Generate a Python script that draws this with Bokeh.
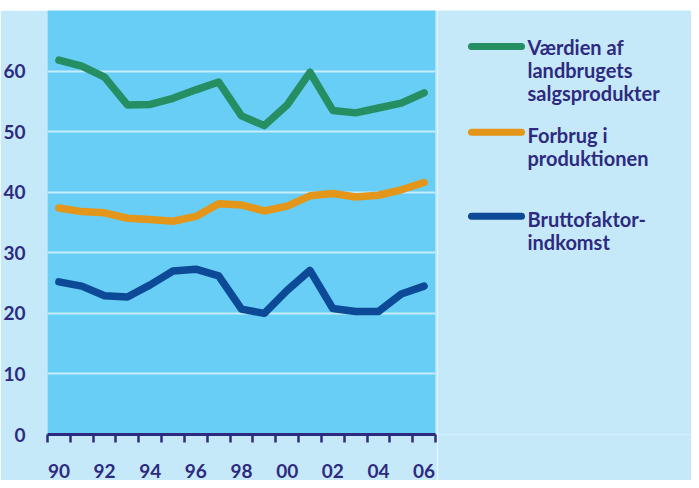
from bokeh.plotting import figure
from bokeh.layouts import row, column
from bokeh.models import Range1d, FixedTicker, Spacer
from bokeh.core.properties import value
from bokeh.embed import file_html
from bokeh.resources import INLINE

years = list(range(1990, 2007))
vaerdi = [61.8, 60.8, 59.0, 54.4, 54.5, 55.5, 56.9, 58.2, 52.6, 51.0, 54.4, 59.8, 53.5, 53.1, 53.9, 54.7, 56.4]
forbrug = [37.4, 36.8, 36.6, 35.7, 35.5, 35.2, 36.0, 38.1, 37.9, 36.9, 37.7, 39.4, 39.8, 39.2, 39.5, 40.4, 41.6]
brutto = [25.2, 24.5, 22.9, 22.7, 24.7, 27.0, 27.3, 26.2, 20.7, 20.0, 23.8, 27.1, 20.8, 20.3, 20.3, 23.2, 24.5]
x_labels = ["90", "92", "94", "96", "98", "00", "02", "04", "06"]
y_ticks = [0, 10, 20, 30, 40, 50, 60]
series_names = [["Værdien af", "landbrugets", "salgsprodukter"],
                ["Forbrug i", "produktionen"],
                ["Bruttofaktor-", "indkomst"]]

BG = "#C6E9F9"
PLOT_BG = "#69CEF5"
NAVY = "#2D2A7F"
COLORS = ["#258F63", "#E3961A", "#0C4996"]
FONT = "Lato"

H = 470
p = figure(width=437, height=H, output_backend="svg", toolbar_location=None,
           x_range=Range1d(1989.5, 2006.5), y_range=Range1d(0, 70),
           min_border_left=45, min_border_right=2, min_border_top=0, min_border_bottom=43)
p.background_fill_color = PLOT_BG
p.border_fill_color = BG
p.outline_line_color = None

for vals, c in zip([vaerdi, forbrug, brutto], COLORS):
    p.line(years, vals, line_color=c, line_width=7.5, line_join="round", line_cap="round")

label_years = list(range(1990, 2007, 2))
xt = FixedTicker(ticks=label_years, minor_ticks=[y - 0.5 for y in range(1990, 2008)])
p.xaxis.ticker = xt
p.xaxis.major_label_overrides = {y: l for y, l in zip(label_years, x_labels)}
p.xaxis.axis_line_color = NAVY
p.xaxis.axis_line_width = 3
p.xaxis.major_tick_line_color = None
p.xaxis.major_tick_out = 0
p.xaxis.major_tick_in = 0
p.xaxis.minor_tick_line_color = NAVY
p.xaxis.minor_tick_line_width = 2.5
p.xaxis.minor_tick_out = 8
p.xaxis.minor_tick_in = 0
p.xaxis.major_label_standoff = 21
p.xaxis.major_label_text_font = FONT
p.xaxis.major_label_text_font_style = "bold"
p.xaxis.major_label_text_font_size = "19px"
p.xaxis.major_label_text_color = NAVY

p.yaxis.ticker = FixedTicker(ticks=y_ticks)
p.yaxis.axis_line_color = None
p.yaxis.major_tick_line_color = None
p.yaxis.minor_tick_line_color = None
p.yaxis.major_label_standoff = 16
p.yaxis.major_label_text_font = FONT
p.yaxis.major_label_text_font_style = "bold"
p.yaxis.major_label_text_font_size = "19px"
p.yaxis.major_label_text_color = NAVY

p.xgrid.grid_line_color = None
p.ygrid.ticker = FixedTicker(ticks=[10, 20, 30, 40, 50, 60])
p.ygrid.grid_line_color = "#E4F6FD"
p.ygrid.grid_line_alpha = 0.75
p.ygrid.grid_line_width = 2

# legend panel
W2 = 254
q = figure(width=W2, height=H, output_backend="svg", toolbar_location=None,
           x_range=Range1d(0, W2), y_range=Range1d(H, 0),
           min_border=0)
q.background_fill_color = BG
q.border_fill_color = BG
q.outline_line_color = None
q.axis.visible = False
q.grid.visible = False

line_y = [40, 135, 228]
text_y0 = [41, 137.5, 231]
line_gap = 25.5
for names, c, ly, ty in zip(series_names, COLORS, line_y, text_y0):
    q.line([34, 84], [ly, ly], line_color=c, line_width=7, line_cap="round")
    ys = [ty + i * line_gap for i in range(len(names))]
    q.text([90] * len(names), ys, text=names, text_font=value(FONT), text_font_style="bold",
           text_font_size="20px", text_color=NAVY, text_baseline="middle", text_align="left")

layout = column(Spacer(height=10, width=691), row(p, q, spacing=0), spacing=0)
open("out.html", "w").write(file_html(layout, INLINE))
